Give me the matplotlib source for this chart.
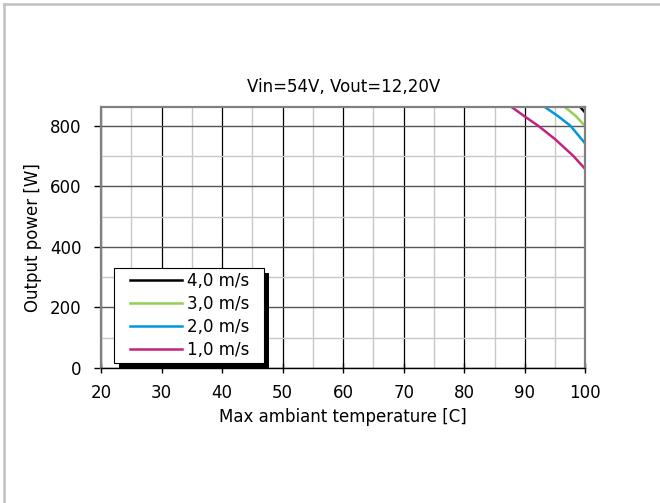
import matplotlib.pyplot as plt
from matplotlib.lines import Line2D
from matplotlib.patches import Rectangle
from matplotlib.transforms import IdentityTransform
from matplotlib.ticker import MultipleLocator
from matplotlib.legend_handler import HandlerLine2D

plt.rcParams["font.family"] = ["DejaVu Sans"]
plt.rcParams["font.size"] = 12

# derating curves (temperature in C, output power in W)
t_4 = [99.2, 100]
p_4 = [860, 842]
t_3 = [96.7, 98.5, 100]
p_3 = [860, 830, 797]
t_2 = [93.4, 95.5, 97.5, 100]
p_2 = [860, 831, 800, 740]
t_1 = [87.9, 90, 92.3, 95, 98, 100]
p_1 = [860, 830, 798, 755, 700, 656]

labels = ["4,0 m/s", "3,0 m/s", "2,0 m/s", "1,0 m/s"]
colors = ["#000000", "#92D050", "#0098DA", "#C2237F"]

fig = plt.figure(figsize=(6.6, 5.03), dpi=100)
# outer chart frame, only top and left edges fall inside the picture
fx, fy = 4 / 660, 1 - 4 / 503
fig.add_artist(Line2D([fx, fx], [-0.1, fy], transform=fig.transFigure, color="#C0C0C0", lw=1.8))
fig.add_artist(Line2D([fx, 1.1], [fy, fy], transform=fig.transFigure, color="#C0C0C0", lw=1.8))

ax = fig.add_axes([0.153, 0.2684, 0.734, 0.518])

lines = []
for t, p, lab, c in zip([t_4, t_3, t_2, t_1], [p_4, p_3, p_2, p_1], labels, colors):
    ln, = ax.plot(t, p, color=c, linewidth=1.8, label=lab + "  ")
    lines.append(ln)

ax.set_xlim(20, 100)
ax.set_ylim(0, 860)
ax.xaxis.set_major_locator(MultipleLocator(10))
ax.xaxis.set_minor_locator(MultipleLocator(5))
ax.yaxis.set_major_locator(MultipleLocator(200))
ax.yaxis.set_minor_locator(MultipleLocator(100))

ax.grid(True, which="minor", color="#C8C8C8", linewidth=1.0)
ax.grid(True, which="major", axis="x", color="#000000", linewidth=0.9)
ax.grid(True, which="major", axis="y", color="#555555", linewidth=1.0)
ax.set_axisbelow(True)

for s in ax.spines.values():
    s.set_color("#808080")
    s.set_linewidth(1.6)
ax.spines["bottom"].set_color("#000000")
ax.spines["bottom"].set_linewidth(1.0)

ax.tick_params(which="minor", length=0)
ax.tick_params(axis="x", which="major", direction="inout", length=7, width=1, colors="black", labelsize=12, pad=8)
ax.tick_params(axis="y", which="major", direction="out", length=5, width=1, colors="black", labelsize=12, pad=9)

ax.set_title("Vin=54V, Vout=12,20V", fontsize=12, pad=11)
ax.set_xlabel("Max ambiant temperature [C]", fontsize=12, labelpad=4)
ax.set_ylabel("Output power [W]", fontsize=12, labelpad=6)

leg = ax.legend(loc="lower left", bbox_to_anchor=(0.027, 0.019), fancybox=False,
                framealpha=1, edgecolor="black", fontsize=12, handlelength=3.85,
                borderpad=0.25, labelspacing=0.3, handletextpad=0.3,
                borderaxespad=0,
                handler_map={ln: HandlerLine2D(xpad=0.72) for ln in lines})
leg.get_frame().set_linewidth(0.8)
leg.set_zorder(6)

# hard black drop shadow behind the legend box
fig.canvas.draw()
bb = leg.get_window_extent()
ax.add_patch(Rectangle((bb.x0 + 5, bb.y0 - 5), bb.width, bb.height, transform=IdentityTransform(),
                       facecolor="black", edgecolor="none", zorder=5.5, clip_on=False))

fig.savefig("out.png", dpi=100)
